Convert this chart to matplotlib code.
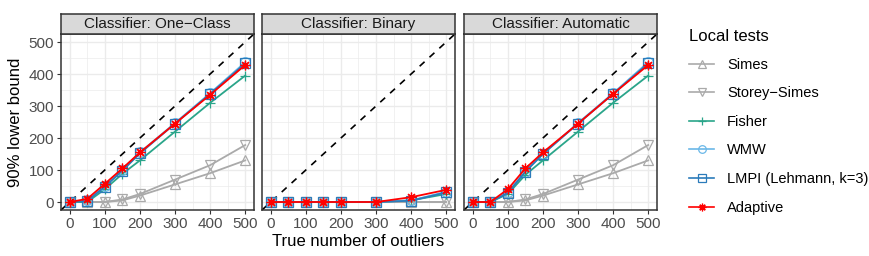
import matplotlib.pyplot as plt
from matplotlib.lines import Line2D

plt.rcParams['font.family'] = ['Liberation Sans', 'DejaVu Sans']

# Data
x = [0, 50, 100, 150, 200, 300, 400, 500]
panels = ['Classifier: One\u2212Class', 'Classifier: Binary', 'Classifier: Automatic']
methods = ['Simes', 'Storey\u2212Simes', 'Fisher', 'WMW', 'LMPI (Lehmann, k=3)', 'Adaptive']

one_class = {
    'Simes': [0, 0, 0, 5, 20, 55, 90, 130],
    'Storey\u2212Simes': [0, 0, 0, 8, 25, 70, 115, 178],
    'Fisher': [0, 0, 40, 88, 130, 220, 310, 395],
    'WMW': [0, 5, 50, 100, 155, 247, 340, 437],
    'LMPI (Lehmann, k=3)': [0, 3, 48, 98, 152, 245, 338, 433],
    'Adaptive': [0, 10, 57, 105, 155, 245, 335, 428],
}
binary = {
    'Simes': [0, 0, 0, 0, 0, 0, 0, 0],
    'Storey\u2212Simes': [0, 0, 0, 0, 0, 0, 0, 0],
    'Fisher': [0, 0, 0, 0, 0, 0, 5, 25],
    'WMW': [0, 0, 0, 0, 0, 0, 5, 32],
    'LMPI (Lehmann, k=3)': [0, 0, 0, 0, 0, 0, 4, 30],
    'Adaptive': [0, 0, 0, 0, 0, 0, 15, 38],
}
automatic = {
    'Simes': [0, 0, 0, 5, 20, 55, 90, 130],
    'Storey\u2212Simes': [0, 0, 0, 8, 25, 70, 115, 178],
    'Fisher': [0, 0, 25, 85, 130, 220, 310, 395],
    'WMW': [0, 0, 32, 95, 150, 247, 340, 437],
    'LMPI (Lehmann, k=3)': [0, 0, 28, 95, 150, 245, 338, 433],
    'Adaptive': [0, 0, 40, 105, 155, 245, 338, 428],
}
data = [one_class, binary, automatic]

styles = {
    'Simes': dict(color='#AAAAAA', marker='^', mfc='none'),
    'Storey\u2212Simes': dict(color='#AAAAAA', marker='v', mfc='none'),
    'Fisher': dict(color='#2AA58A', marker='+'),
    'WMW': dict(color='#6BB8E8', marker='o', mfc='none'),
    'LMPI (Lehmann, k=3)': dict(color='#2B7BBA', marker='s', mfc='none'),
    'Adaptive': dict(color='#FF0000', marker=(8, 2, 0)),
}

W, H = 870, 256
fig = plt.figure(figsize=(W / 100, H / 100), dpi=100)

lefts = [61, 262, 464]
pw = 193
top, bottom = 34, 210
strip_h = 20

for i, (title, d) in enumerate(zip(panels, data)):
    ax = fig.add_axes([lefts[i] / W, 1 - bottom / H, pw / W, (bottom - top) / H])
    ax.set_xlim(-25, 525)
    ax.set_ylim(-25, 525)
    ax.set_xticks([0, 100, 200, 300, 400, 500])
    ax.set_yticks([0, 100, 200, 300, 400, 500])
    ax.set_xticks([50, 150, 250, 350, 450], minor=True)
    ax.set_yticks([50, 150, 250, 350, 450], minor=True)
    ax.grid(True, which='major', color='#EBEBEB', lw=1.0, zorder=0)
    ax.grid(True, which='minor', color='#EBEBEB', lw=0.5, zorder=0)
    ax.tick_params(which='minor', length=0)
    ax.tick_params(which='major', length=3, color='#333333', labelsize=11,
                   labelcolor='#4D4D4D', pad=2)
    if i > 0:
        ax.tick_params(axis='y', labelleft=False, length=0)
    for s in ax.spines.values():
        s.set_color('#333333')
        s.set_linewidth(1.1)
    ax.set_axisbelow(True)
    ax.plot([-25, 525], [-25, 525], color='black', ls=(0, (4, 4)), lw=1.2, zorder=1)
    for m in methods:
        st = styles[m]
        ax.plot(x, d[m], color=st['color'], marker=st['marker'],
                mfc=st.get('mfc', st['color']), mec=st['color'],
                ms=7, mew=0.9, lw=1.3, zorder=2)
    # strip
    sax = fig.add_axes([lefts[i] / W, 1 - top / H, pw / W, strip_h / H])
    sax.set_facecolor('#D9D9D9')
    sax.set_xticks([])
    sax.set_yticks([])
    for s in sax.spines.values():
        s.set_color('#333333')
        s.set_linewidth(1.1)
    sax.text(0.5, 0.5, title, ha='center', va='center', fontsize=11,
             color='#1A1A1A', transform=sax.transAxes)

fig.text(358 / W, 1 - 242 / H, 'True number of outliers', ha='center', va='center',
         fontsize=12)
fig.text(16 / W, 1 - 122 / H, '90% lower bound', ha='center', va='center',
         rotation=90, fontsize=12)

handles = []
for m in methods:
    st = styles[m]
    handles.append(Line2D([], [], color=st['color'], marker=st['marker'],
                          mfc=st.get('mfc', st['color']), mec=st['color'],
                          ms=5.5, mew=0.9, lw=1.2))
leg = fig.legend(handles, methods, title='Local tests', loc='upper left',
                 bbox_to_anchor=(676 / W, 1 - 15 / H), frameon=False,
                 fontsize=10.5, title_fontsize=12, labelspacing=1.0,
                 handlelength=1.7, handletextpad=0.9, alignment='left')
leg.get_title().set_position((0, -1))

fig.savefig('out.png', dpi=100)
